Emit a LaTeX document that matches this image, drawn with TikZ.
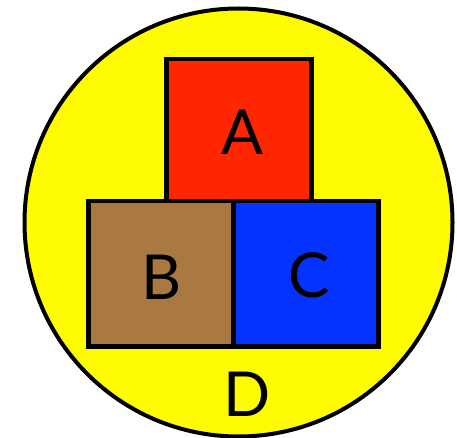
\documentclass[tikz,border=0pt]{standalone}
\usepackage{fontspec}
\setmainfont{Lato}
\definecolor{lemon}{HTML}{FFFB00}
\definecolor{maraschino}{HTML}{FF2600}
\definecolor{caramel}{HTML}{AA7942}
\definecolor{blueberry}{HTML}{0433FF}
\begin{document}
\begin{tikzpicture}[x=1pt,y=-1pt,
  block/.style={draw=black,line width=4.5pt,minimum width=145pt,minimum height=145pt,inner sep=0pt,outer sep=0pt},
  letter/.style={font=\fontsize{62}{62}\selectfont,inner sep=0pt,anchor=center}]
\useasboundingbox (0,0) rectangle (457,438);
\node[circle,draw=black,line width=4pt,fill=lemon,minimum size=428pt,inner sep=0pt] (D) at (238.5,222.5) {};
\node[block,fill=maraschino] (A) at (238.75,131.5) {};
\node[block,fill=caramel] (B) at (160.75,273.75) {};
\node[block,fill=blueberry] (C) at (305.75,273.75) {};
\node[letter] (lA) at (242,132) {A};
\node[letter] (lB) at (162,277) {B};
\node[letter] (lC) at (309,275) {C};
\node[letter] (lD) at (247,394) {D};
\end{tikzpicture}
\end{document}
